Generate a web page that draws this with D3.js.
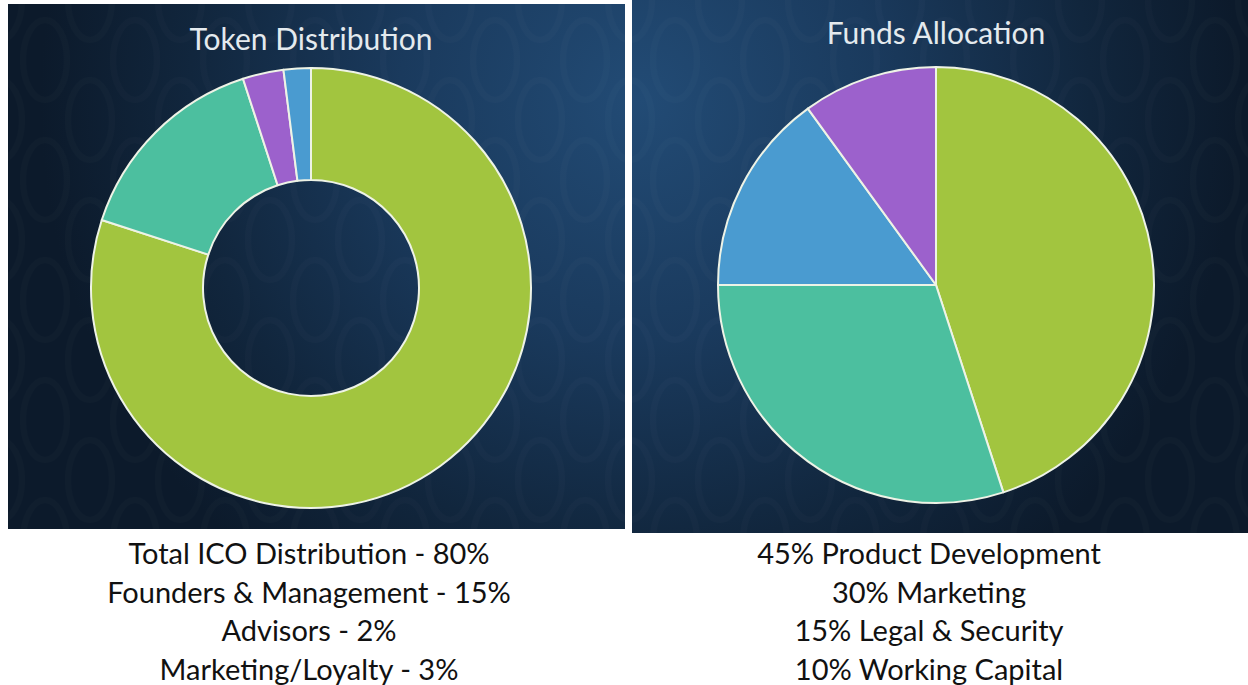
<!DOCTYPE html>
<html>
<head>
<meta charset="utf-8">
<script src="https://cdn.jsdelivr.net/npm/d3@7"></script>
<style>
  html, body { margin: 0; padding: 0; background: #ffffff; }
  svg { display: block; }
</style>
</head>
<body>
<svg id="chart" width="1248" height="685"></svg>
<script>
// ---- data ----
const tokenTitle = "Token Distribution";
const tokenCategories = ["Total ICO Distribution", "Founders & Management", "Marketing/Loyalty", "Advisors"];
const tokenValues = [80, 15, 3, 2];
const tokenCaptions = ["Total ICO Distribution - 80%", "Founders & Management - 15%", "Advisors - 2%", "Marketing/Loyalty - 3%"];

const fundsTitle = "Funds Allocation";
const fundsCategories = ["Product Development", "Marketing", "Legal & Security", "Working Capital"];
const fundsValues = [45, 30, 15, 10];
const fundsCaptions = ["45% Product Development", "30% Marketing", "15% Legal & Security", "10% Working Capital"];

const tokenColors = ["#a2c53f", "#4cbf9f", "#9c61cc", "#4a9bd0"];
const fundsColors = ["#a2c53f", "#4cbf9f", "#4a9bd0", "#9c61cc"];

// ---- drawing ----
const svg = d3.select("#chart");
const defs = svg.append("defs");

const grad = defs.append("radialGradient")
  .attr("id", "bg")
  .attr("gradientUnits", "userSpaceOnUse")
  .attr("cx", 640).attr("cy", 100).attr("r", 600);
grad.append("stop").attr("offset", "0%").attr("stop-color", "#224b75");
grad.append("stop").attr("offset", "40%").attr("stop-color", "#1a3a5d");
grad.append("stop").attr("offset", "75%").attr("stop-color", "#11263d");
grad.append("stop").attr("offset", "100%").attr("stop-color", "#0c1a2b");

// subtle damask-like texture
const pat = defs.append("pattern")
  .attr("id", "damask")
  .attr("patternUnits", "userSpaceOnUse")
  .attr("width", 90).attr("height", 120);
[[45, 60], [0, 0], [90, 0], [0, 120], [90, 120]].forEach(([x, y]) => {
  pat.append("ellipse").attr("cx", x).attr("cy", y).attr("rx", 22).attr("ry", 40)
    .attr("fill", "none").attr("stroke", "#ffffff").attr("stroke-opacity", 0.015).attr("stroke-width", 6);
});

const panels = [
  { x: 8, y: 4, w: 617, h: 525 },
  { x: 632, y: 0, w: 616, h: 533 }
];
panels.forEach(p => {
  svg.append("rect").attr("x", p.x).attr("y", p.y).attr("width", p.w).attr("height", p.h)
    .attr("fill", "url(#bg)");
  svg.append("rect").attr("x", p.x).attr("y", p.y).attr("width", p.w).attr("height", p.h)
    .attr("fill", "url(#damask)");
});

const pie = d3.pie().sort(null).value(d => d);

function drawPie(cx, cy, rOuter, rInner, values, colors, title, titleY, captions, capX) {
  const g = svg.append("g").attr("transform", `translate(${cx},${cy})`);
  const arc = d3.arc().outerRadius(rOuter).innerRadius(rInner);
  g.selectAll("path").data(pie(values)).join("path")
    .attr("d", arc)
    .attr("fill", (d, i) => colors[i])
    .attr("stroke", "#eef3e6")
    .attr("stroke-width", 2)
    .attr("stroke-linejoin", "round");

  svg.append("text")
    .attr("x", cx).attr("y", titleY)
    .attr("text-anchor", "middle")
    .attr("font-family", "Lato, 'Open Sans', sans-serif")
    .attr("font-size", 30)
    .attr("fill", "#e4eaee")
    .text(title);

  svg.append("g").selectAll("text").data(captions).join("text")
    .attr("x", capX)
    .attr("y", (d, i) => 564 + i * 38.5)
    .attr("text-anchor", "middle")
    .attr("font-family", "Lato, 'Open Sans', sans-serif")
    .attr("font-size", 29)
    .attr("fill", "#111111")
    .text(d => d);
}

drawPie(311, 288, 220, 108, tokenValues, tokenColors, tokenTitle, 50, tokenCaptions, 309);
drawPie(936, 285, 218, 0, fundsValues, fundsColors, fundsTitle, 44, fundsCaptions, 929);
</script>
</body>
</html>
